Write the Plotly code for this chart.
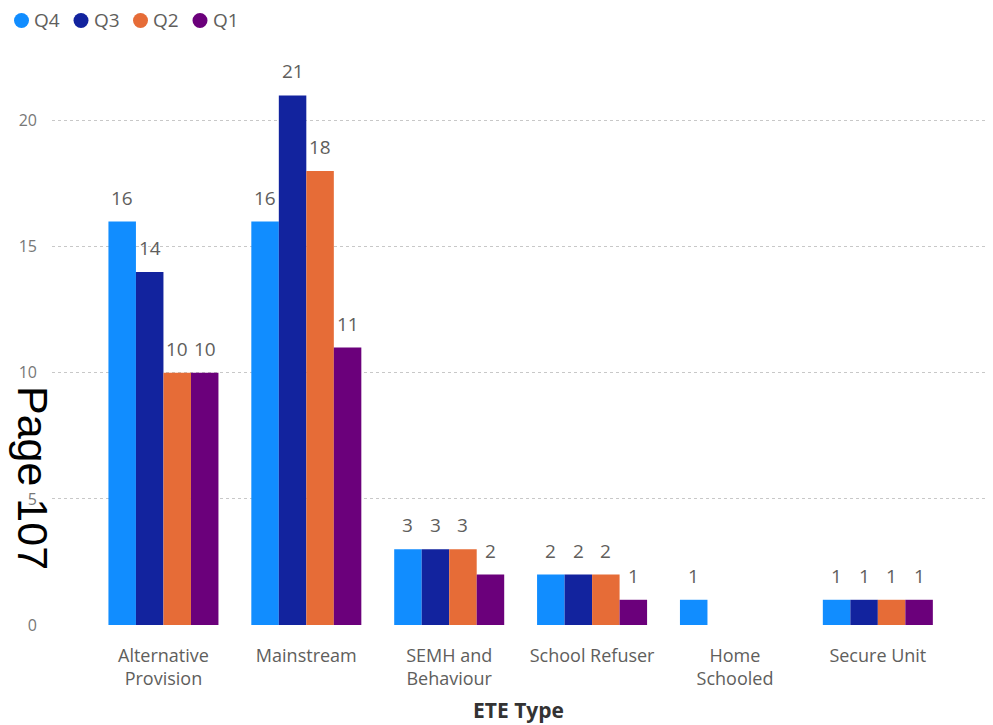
import plotly.graph_objects as go

# ETE type counts per quarter
categories = ["Alternative<br>Provision", "Mainstream", "SEMH and<br>Behaviour",
              "School Refuser", "Home<br>Schooled", "Secure Unit"]
quarters = ["Q4", "Q3", "Q2", "Q1"]
q4 = [16, 16, 3, 2, 1, 1]
q3 = [14, 21, 3, 2, None, 1]
q2 = [10, 18, 3, 2, None, 1]
q1 = [10, 11, 2, 1, None, 1]
colors = ["#118DFF", "#12239E", "#E66C37", "#6B007B"]
y_ticks = [0, 5, 10, 15, 20]

FONT = "Open Sans, Segoe UI, sans-serif"
LABEL_GREY = "#605E5C"
series = [q4, q3, q2, q1]

# Plot geometry
W, H = 993, 725
M_L, M_R, M_T, M_B = 52, 8, 45, 100
X_RANGE = [-0.78, 5.75]
BARGAP = 0.23
plot_w = W - M_L - M_R
plot_h = H - M_T - M_B


def px_x(px):
    return (px - M_L) / plot_w


def px_y(py):
    return (H - M_B - py) / plot_h


fig = go.Figure()
for name, vals, col in zip(quarters, series, colors):
    fig.add_trace(go.Bar(
        x=categories, y=vals, name=name, marker_color=col, marker_line_width=0,
        showlegend=False,
    ))

# Value labels above each bar, shifted to their slot within the group
cat_px = plot_w / (X_RANGE[1] - X_RANGE[0])
bar_px = cat_px * (1 - BARGAP) / len(series)
for i, vals in enumerate(series):
    shift = (i - (len(series) - 1) / 2) * bar_px
    for cat, v in zip(categories, vals):
        if v is None:
            continue
        fig.add_annotation(
            x=cat, y=v, text=str(v), showarrow=False, xshift=shift,
            yanchor="bottom", yshift=9,
            font=dict(size=19, color=LABEL_GREY, family=FONT),
        )

# Legend: circle markers with series names
for k, (name, col) in enumerate(zip(quarters, colors)):
    cx = 21.5 + k * 59.5
    cy = 20.5
    r = 7.5
    fig.add_shape(
        type="circle", xref="paper", yref="paper",
        x0=px_x(cx - r), x1=px_x(cx + r), y0=px_y(cy + r), y1=px_y(cy - r),
        fillcolor=col, line=dict(width=0),
    )
    fig.add_annotation(
        text=name, showarrow=False, xref="paper", yref="paper",
        x=px_x(cx + 10.5), y=px_y(cy), xanchor="left", yanchor="middle",
        font=dict(size=19, color=LABEL_GREY, family=FONT),
    )

fig.update_layout(
    width=W, height=H,
    margin=dict(l=M_L, r=M_R, t=M_T, b=M_B, autoexpand=False),
    paper_bgcolor="white", plot_bgcolor="white",
    barmode="group", bargap=BARGAP, bargroupgap=0,
    font=dict(family=FONT, color=LABEL_GREY),
    showlegend=False,
    xaxis=dict(
        type="category", range=X_RANGE, showgrid=False, zeroline=False,
        showline=False, ticks="", ticklabelstandoff=18,
        tickfont=dict(size=18, color=LABEL_GREY),
        title=dict(text="<b>ETE Type</b>", font=dict(size=21, color="#333333"), standoff=13),
    ),
    yaxis=dict(
        range=[0, 23], tickvals=y_ticks, showgrid=True, gridcolor="#C8C8C8",
        griddash="dot", gridwidth=1, zeroline=False, showline=False,
        tickfont=dict(size=16, color="#777777"), ticklabelstandoff=14,
    ),
)

fig.add_annotation(
    text="Page 107", textangle=90, showarrow=False,
    xref="paper", yref="paper", x=px_x(33), y=px_y(478),
    xanchor="center", yanchor="middle",
    font=dict(family="Liberation Sans, Arial, sans-serif", size=43, color="black"),
)

fig.write_html("out.html")
